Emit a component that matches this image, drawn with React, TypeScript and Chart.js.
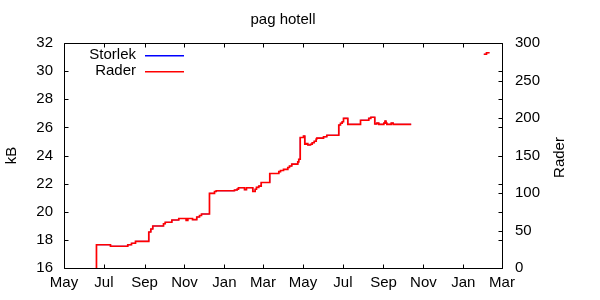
import React, { useEffect, useRef } from "react";
import { Chart, registerables } from "chart.js";

Chart.register(...registerables);

// x values are days counted from 1 May of the first year
const monthTicks = [0, 61, 123, 184, 245, 304, 365, 426, 488, 549, 610, 669];
const monthLabels = ["May", "Jul", "Sep", "Nov", "Jan", "Mar", "May", "Jul", "Sep", "Nov", "Jan", "Mar"];

const days = [
  48.9, 49.6, 71.0, 97.4, 103.1, 109.2, 129.5, 132.6, 135.6, 152.0, 154.6, 164.7, 175.3,
  186.6, 189.1, 196.3, 202.8, 207.0, 210.0, 222.2, 229.9, 232.5, 260.4, 264.5, 266.5,
  275.7, 278.7, 288.4, 292.0, 294.0, 297.5, 301.2, 314.3, 328.1, 330.7, 335.3, 341.8,
  344.4, 347.9, 357.1, 358.6, 360.8, 365.8, 367.8, 369.9, 372.4, 376.5, 379.1, 382.2,
  385.2, 386.1, 396.4, 401.4, 419.7, 422.3, 424.9, 426.9, 433.5, 452.9, 465.5, 468.6,
  474.7, 477.8, 480.8, 488.5, 490.3, 491.8, 493.1, 499.8, 502.8, 530.3, 531.0,
  641.2, 645.3, 648.8,
];

const rader: (number | null)[] = [
  0, 31, 29, 31, 33, 35.6, 48, 52, 56, 59, 61, 64, 66,
  63.6, 66, 64.5, 68, 70, 72, 99.6, 102, 103, 104, 105.3, 107,
  104.5, 107, 102, 105, 107.6, 109.3, 114, 126, 128.4, 130, 131.5, 134,
  136, 138.5, 141.5, 145, 174, 176, 165, 166, 164, 165, 167, 169,
  172, 173.3, 175, 177, 190.7, 193, 195, 199.6, 191.6, 197, 199.6, 201,
  192, 193.3, 191.6, 193.3, 196, 193.3, 191.6, 193.3, 191.6, 191.6, null,
  285, 287, 288,
];

const storlek: (number | null)[] = [
  16.0, 17.65, 17.55, 17.65, 17.76, 17.9, 18.56, 18.77, 18.99, 19.15, 19.25, 19.41, 19.52,
  19.39, 19.52, 19.44, 19.63, 19.73, 19.84, 21.31, 21.44, 21.49, 21.55, 21.62, 21.71,
  21.57, 21.71, 21.44, 21.6, 21.74, 21.83, 22.08, 22.72, 22.85, 22.93, 23.01, 23.15,
  23.25, 23.39, 23.55, 23.73, 25.28, 25.39, 24.8, 24.85, 24.75, 24.8, 24.91, 25.01,
  25.17, 25.24, 25.33, 25.44, 26.17, 26.29, 26.4, 26.65, 26.22, 26.51, 26.65, 26.72,
  26.24, 26.31, 26.22, 26.31, 26.45, 26.31, 26.22, 26.31, 26.22, 26.22, null,
  31.2, 31.31, 31.36,
];

const FONT = "'Liberation Sans', Arial, sans-serif";
const TICK = 4;

const decor = {
  id: "decor",
  afterDraw(chart: any) {
    const { ctx, chartArea: a, scales } = chart;
    const L = Math.round(a.left) + 0.5;
    const R = Math.round(a.right) + 0.5;
    const T = Math.round(a.top) + 0.5;
    const B = Math.round(a.bottom) + 0.5;
    ctx.save();
    ctx.strokeStyle = "#000";
    ctx.lineWidth = 1;
    ctx.beginPath();
    ctx.rect(L, T, R - L, B - T);
    for (const t of scales.x.ticks) {
      const px = Math.round(scales.x.getPixelForValue(t.value)) + 0.5;
      ctx.moveTo(px, B);
      ctx.lineTo(px, B - TICK);
      ctx.moveTo(px, T);
      ctx.lineTo(px, T + TICK);
    }
    for (const t of scales.y.ticks) {
      const py = Math.round(scales.y.getPixelForValue(t.value)) + 0.5;
      ctx.moveTo(L, py);
      ctx.lineTo(L + TICK, py);
      ctx.moveTo(R, py);
      ctx.lineTo(R - TICK, py);
    }
    for (const t of scales.y2.ticks) {
      const py = Math.round(scales.y2.getPixelForValue(t.value)) + 0.5;
      ctx.moveTo(R, py);
      ctx.lineTo(R - TICK, py);
    }
    ctx.stroke();

    ctx.fillStyle = "#000";
    ctx.font = `15px ${FONT}`;
    ctx.textBaseline = "middle";
    ctx.textAlign = "center";
    ctx.fillText("pag hotell", (a.left + a.right) / 2, 20);

    // legend
    ctx.textAlign = "right";
    ctx.fillText("Storlek", 136, 55);
    ctx.fillText("Rader", 136, 71);
    ctx.fillStyle = "#0000ff";
    ctx.fillRect(145, 55, 39, 1.5);
    ctx.fillStyle = "#ff0000";
    ctx.fillRect(145, 71, 39, 1.5);

    // axis titles
    ctx.fillStyle = "#000";
    ctx.textAlign = "center";
    ctx.save();
    ctx.translate(12, (a.top + a.bottom) / 2);
    ctx.rotate(-Math.PI / 2);
    ctx.fillText("kB", 0, 0);
    ctx.restore();
    ctx.save();
    ctx.translate(560, (a.top + a.bottom) / 2 + 2);
    ctx.rotate(-Math.PI / 2);
    ctx.fillText("Rader", 0, 0);
    ctx.restore();
    ctx.restore();
  },
};

export default function App() {
  const ref = useRef<HTMLCanvasElement>(null);
  useEffect(() => {
    if (!ref.current) return;
    Chart.defaults.font.family = FONT;
    Chart.defaults.font.size = 15;
    Chart.defaults.color = "#000";
    const chart = new Chart(ref.current, {
      type: "line",
      data: {
        labels: days,
        datasets: [
          {
            label: "Storlek",
            data: days.map((d, i) => ({ x: d, y: storlek[i] as any })),
            yAxisID: "y",
            borderColor: "#0000ff",
            borderWidth: 0.8,
            pointRadius: 0,
            stepped: "before",
            spanGaps: false,
            order: 1,
          },
          {
            label: "Rader",
            data: days.map((d, i) => ({ x: d, y: rader[i] as any })),
            yAxisID: "y2",
            borderColor: "#ff0000",
            borderWidth: 1.7,
            pointRadius: 0,
            stepped: "before",
            spanGaps: false,
            order: 0,
          },
        ],
      },
      options: {
        animation: false,
        responsive: false,
        events: [],
        layout: { padding: { top: 43, left: 0, right: 0, bottom: 0 } },
        plugins: { legend: { display: false }, title: { display: false }, tooltip: { enabled: false } },
        scales: {
          x: {
            type: "linear",
            min: 0,
            max: 669,
            grid: { display: false, drawTicks: false },
            border: { display: false },
            afterBuildTicks: (s: any) => {
              s.ticks = monthTicks.map((value) => ({ value }));
            },
            afterFit: (s: any) => {
              s.height = 32;
            },
            ticks: {
              autoSkip: false,
              maxRotation: 0,
              padding: 6,
              callback: (_v: any, i: number) => monthLabels[i],
            },
          },
          y: {
            position: "left",
            min: 16,
            max: 32,
            grid: { display: false, drawTicks: false },
            border: { display: false },
            afterFit: (s: any) => {
              s.width = 64;
            },
            ticks: { stepSize: 2, padding: 11 },
          },
          y2: {
            position: "right",
            min: 0,
            max: 300,
            grid: { display: false, drawTicks: false },
            border: { display: false },
            afterFit: (s: any) => {
              s.width = 98;
            },
            ticks: { stepSize: 50, padding: 13 },
          },
        },
      },
      plugins: [decor],
    });
    return () => chart.destroy();
  }, []);
  return (
    <div style={{ position: "fixed", left: 0, top: 0, width: 600, height: 300, background: "#fff" }}>
      <canvas ref={ref} width={600} height={300} style={{ width: 600, height: 300 }} />
    </div>
  );
}
